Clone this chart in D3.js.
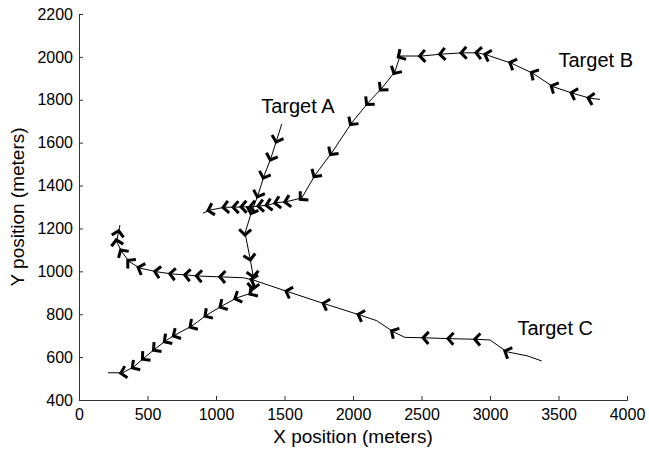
<!DOCTYPE html>
<html>
<head>
<meta charset="utf-8">
<script src="https://cdn.jsdelivr.net/npm/d3@7"></script>
<style>
  body { margin: 0; background: #fff; }
  svg { display: block; font-family: "Liberation Sans", Arial, sans-serif; }
</style>
</head>
<body>
<div id="chart"></div>
<script>
// axis ticks
const xTicks = [0, 500, 1000, 1500, 2000, 2500, 3000, 3500, 4000];
const yTicks = [400, 600, 800, 1000, 1200, 1400, 1600, 1800, 2000, 2200];

// tracks: [x, y, marker], listed in direction of travel
const trackA = [
    [1480, 1687, 0], [1443, 1612, 1], [1401, 1528, 1], [1350, 1444, 1],
    [1307, 1356, 1], [1260, 1278, 1], [1212, 1179, 1], [1248, 1062, 1],
    [1270, 983, 1], [1270, 960, 0], [1270, 927, 1], [1260, 899, 1],
    [1151, 876, 1], [1042, 838, 1], [932, 796, 1], [823, 745, 1],
    [701, 703, 1], [635, 677, 1], [555, 638, 1], [474, 596, 1],
    [401, 555, 1], [319, 527, 1], [212, 527, 0]
];
const trackB = [
    [3803, 1802, 0], [3730, 1807, 1], [3606, 1830, 1], [3460, 1861, 1],
    [3314, 1923, 1], [3158, 1970, 1], [2976, 2009, 1], [2912, 2019, 1],
    [2803, 2019, 1], [2647, 2013, 1], [2501, 2004, 1], [2343, 2004, 1],
    [2306, 1931, 1], [2209, 1853, 1], [2109, 1785, 1], [1990, 1692, 1],
    [1844, 1552, 1], [1723, 1449, 1], [1626, 1342, 1], [1516, 1325, 1],
    [1443, 1320, 1], [1380, 1309, 1], [1321, 1305, 1], [1261, 1301, 1],
    [1197, 1301, 1], [1139, 1299, 1], [1066, 1299, 1], [956, 1286, 1],
    [905, 1271, 0]
];
const trackC = [
    [3377, 582, 0], [3277, 605, 0], [3122, 625, 1], [3000, 680, 0],
    [2903, 683, 1], [2708, 686, 1], [2526, 690, 1], [2380, 692, 0],
    [2294, 718, 1], [2173, 770, 0], [2051, 796, 1], [1796, 848, 1],
    [1525, 905, 1], [1270, 960, 1], [1199, 970, 0], [1042, 974, 1],
    [871, 978, 1], [786, 983, 1], [677, 988, 1], [567, 998, 1],
    [445, 1015, 1], [367, 1045, 1], [312, 1092, 1], [275, 1138, 1],
    [287, 1180, 1], [299, 1216, 0]
];
const tracks = [trackA, trackB, trackC];

const labelNames = ["Target A", "Target B", "Target C"];
const labelPos = [[1330, 1740], [3500, 1955], [3200, 705]];

const width = 649, height = 454;
const margin = { top: 14, right: 22, bottom: 54, left: 79 };

const svg = d3.select("#chart").append("svg")
    .attr("width", width)
    .attr("height", height);

const x = d3.scaleLinear().domain([0, 4000]).range([margin.left, width - margin.right]);
const y = d3.scaleLinear().domain([400, 2200]).range([height - margin.bottom, margin.top]);

// axes (ticks point inward)
const xAxis = svg.append("g")
    .attr("transform", `translate(0,${height - margin.bottom})`)
    .call(d3.axisBottom(x).tickValues(xTicks).tickSize(-4).tickPadding(8).tickFormat(d3.format("d")));
const yAxis = svg.append("g")
    .attr("transform", `translate(${margin.left},0)`)
    .call(d3.axisLeft(y).tickValues(yTicks).tickSize(-4).tickPadding(6).tickFormat(d3.format("d")));

[xAxis, yAxis].forEach(g => {
    g.select(".domain").attr("stroke", "#333").attr("stroke-width", 1);
    g.selectAll(".tick line").attr("stroke", "#333");
    g.selectAll(".tick text")
        .attr("fill", "#000")
        .style("font-size", "16px")
        .style("font-family", "'Liberation Sans', Arial, sans-serif");
});
xAxis.selectAll(".tick text").attr("dy", "0.75em");

// axis labels
svg.append("text")
    .attr("x", (x(0) + x(4000)) / 2)
    .attr("y", 443)
    .attr("text-anchor", "middle")
    .style("font-size", "19px")
    .text("X position (meters)");

svg.append("text")
    .attr("transform", `translate(24,${(y(400) + y(2200)) / 2}) rotate(-90)`)
    .attr("text-anchor", "middle")
    .style("font-size", "19px")
    .text("Y position (meters)");

// track lines
const line = d3.line().x(d => x(d[0])).y(d => y(d[1]));
svg.selectAll(".track")
    .data(tracks)
    .enter()
    .append("path")
    .attr("class", "track")
    .attr("d", line)
    .attr("fill", "none")
    .attr("stroke", "#000")
    .attr("stroke-width", 1);

// chevron markers, pointing in direction of travel
const markers = [];
tracks.forEach(t => {
    t.forEach((p, i) => {
        if (!p[2]) return;
        const a = t[Math.max(i - 1, 0)];
        const b = t[Math.min(i + 1, t.length - 1)];
        const ang = Math.atan2(y(b[1]) - y(a[1]), x(b[0]) - x(a[0])) * 180 / Math.PI;
        markers.push({ px: x(p[0]), py: y(p[1]), ang: ang });
    });
});

svg.selectAll(".chev")
    .data(markers)
    .enter()
    .append("path")
    .attr("class", "chev")
    .attr("d", "M-3.5,-6L2,0L-3.5,6")
    .attr("transform", d => `translate(${d.px},${d.py}) rotate(${d.ang})`)
    .attr("fill", "none")
    .attr("stroke", "#000")
    .attr("stroke-width", 3)
    .attr("stroke-linejoin", "miter");

// target labels
svg.selectAll(".tlabel")
    .data(labelNames)
    .enter()
    .append("text")
    .attr("class", "tlabel")
    .attr("x", (d, i) => x(labelPos[i][0]))
    .attr("y", (d, i) => y(labelPos[i][1]))
    .style("font-size", "20px")
    .text(d => d);
</script>
</body>
</html>
